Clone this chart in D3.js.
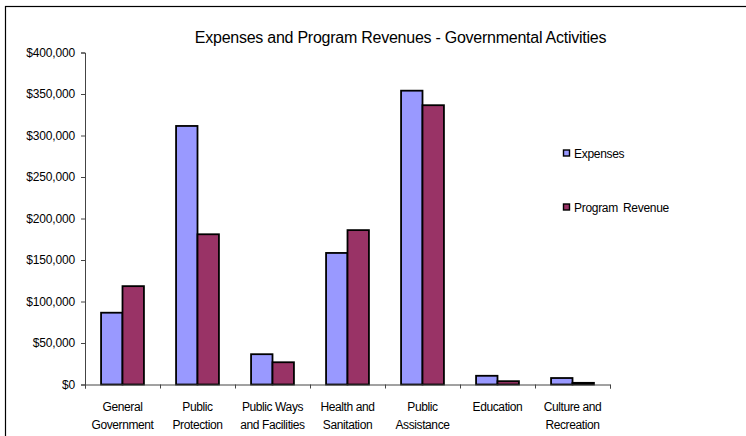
<!DOCTYPE html>
<html>
<head>
<meta charset="utf-8">
<script src="https://cdn.jsdelivr.net/npm/d3@7"></script>
<style>
  html, body { margin: 0; padding: 0; background: #fff; }
  svg { display: block; font-family: "Liberation Sans", Arial, sans-serif; }
</style>
</head>
<body>
<svg id="chart" width="746" height="436"></svg>
<script>
// Governmental activities by function (dollars)
const categories = [
  ["General", "Government"],
  ["Public", "Protection"],
  ["Public Ways", "and Facilities"],
  ["Health and", "Sanitation"],
  ["Public", "Assistance"],
  ["Education"],
  ["Culture and", "Recreation"]
];
const seriesNames = ["Expenses", "Program Revenue"];
const expenses       = [86500, 311500, 36500, 158500, 354000, 10500, 7800];
const programRevenue = [118500, 181000, 26800, 186000, 336500, 4000, 2000];
const yTicks = [0, 50000, 100000, 150000, 200000, 250000, 300000, 350000, 400000];
const colors = ["#9999FF", "#993366"];
const titleText = "Expenses and Program Revenues - Governmental Activities";

const svg = d3.select("#chart");
const W = 746, H = 436;
const plot = { left: 85, right: 610, top: 52.5, bottom: 384.5 };

// outer chart frame
svg.append("rect")
  .attr("x", 5.5).attr("y", 6.5)
  .attr("width", W + 20).attr("height", H + 20)
  .attr("fill", "none").attr("stroke", "#000").attr("stroke-width", 1.2);

svg.append("text")
  .attr("x", 400.5).attr("y", 43)
  .attr("text-anchor", "middle")
  .attr("font-size", 16)
  .attr("letter-spacing", -0.25)
  .attr("fill", "#000")
  .text(titleText);

const idx = categories.map((d, i) => i);
const x0 = d3.scaleBand().domain(idx).range([plot.left, plot.right]).paddingInner(0).paddingOuter(0);
const x1 = d3.scaleBand().domain(seriesNames).range([0, x0.bandwidth()]).paddingInner(0).paddingOuter(0.75);
const y = d3.scaleLinear().domain([0, 400000]).range([plot.bottom, plot.top]);

// y axis
const yAxis = d3.axisLeft(y).tickValues(yTicks).tickSize(4).tickPadding(6)
  .tickFormat(d3.format("$,"));
const gy = svg.append("g").attr("transform", `translate(${plot.left},0)`).call(yAxis);
gy.select(".domain").attr("stroke", "#444");
gy.selectAll(".tick line").attr("stroke", "#444");
gy.selectAll("text").attr("font-size", 12).attr("letter-spacing", -0.15)
  .attr("fill", "#000").attr("font-family", "Liberation Sans, Arial, sans-serif");

// bars
const rows = idx.map(i => ({ i, vals: [expenses[i], programRevenue[i]] }));
const groups = svg.append("g").selectAll("g").data(rows).join("g")
  .attr("transform", d => `translate(${x0(d.i)},0)`);
groups.selectAll("rect").data(d => d.vals.map((v, k) => ({ k, v }))).join("rect")
  .attr("x", d => x1(seriesNames[d.k]))
  .attr("y", d => y(d.v))
  .attr("width", x1.bandwidth())
  .attr("height", d => y(0) - y(d.v))
  .attr("fill", d => colors[d.k])
  .attr("stroke", "#000")
  .attr("stroke-width", 1.8);

// x axis with ticks between categories
const xEdges = d3.scaleLinear().domain([0, categories.length]).range([plot.left, plot.right]);
const xAxis = d3.axisBottom(xEdges).tickValues(d3.range(categories.length + 1))
  .tickSize(4).tickFormat("");
const gx = svg.append("g").attr("transform", `translate(0,${plot.bottom})`).call(xAxis);
gx.select(".domain").attr("stroke", "#444");
gx.selectAll(".tick line").attr("stroke", "#444");

// category labels
const lab = svg.append("g").selectAll("text").data(rows).join("text")
  .attr("x", d => x0(d.i) + x0.bandwidth() / 2)
  .attr("y", 411)
  .attr("text-anchor", "middle")
  .attr("font-size", 12)
  .attr("letter-spacing", -0.4)
  .attr("fill", "#000");
lab.selectAll("tspan").data(d => categories[d.i]).join("tspan")
  .attr("x", function () { return d3.select(this.parentNode).attr("x"); })
  .attr("dy", (d, j) => j === 0 ? 0 : 18)
  .text(d => d);

// legend
const legend = svg.append("g");
const legendY = [153.5, 207.5];
seriesNames.forEach((name, k) => {
  legend.append("rect")
    .attr("x", 563.5).attr("y", legendY[k] - 3.5)
    .attr("width", 6).attr("height", 6)
    .attr("fill", colors[k]).attr("stroke", "#000").attr("stroke-width", 1.4);
  legend.append("text")
    .attr("x", 574).attr("y", legendY[k] + 4.5)
    .attr("font-size", 12)
    .attr("letter-spacing", -0.3)
    .attr("word-spacing", 2)
    .attr("fill", "#000")
    .text(name);
});
</script>
</body>
</html>
